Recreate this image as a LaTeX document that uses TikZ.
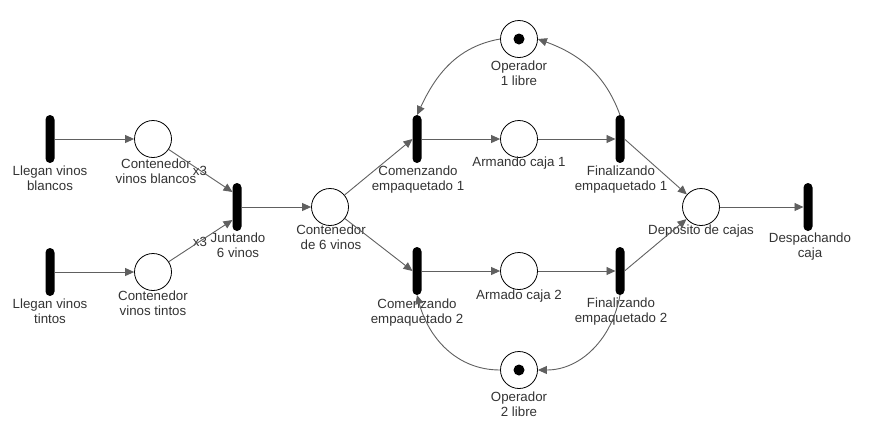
\documentclass[tikz,border=0pt]{standalone}
\usepackage{fontspec}
\setmainfont{Liberation Sans}
\usetikzlibrary{arrows.meta,calc}
\definecolor{edgec}{HTML}{606060}
\definecolor{txt}{HTML}{333333}
\tikzset{
 trans/.style={fill=black,draw=none,minimum width=9pt,minimum height=48pt,rounded corners=4.5pt,inner sep=0pt,outer sep=0pt},
 place/.style={circle,draw=black,line width=0.8pt,minimum size=37pt,inner sep=0pt,fill=white},
 token/.style={circle,fill=black,minimum size=11pt,inner sep=0pt},
 lbl/.style={anchor=north,align=center,text=txt,font=\fontsize{13.3}{15}\selectfont,inner sep=0pt},
 arr/.style={draw=edgec,line width=0.9pt,-{Triangle[length=9pt,width=8pt]}},
}
\begin{document}
\begin{tikzpicture}[x=1pt,y=-1pt]
\useasboundingbox (0,0) rectangle (869,437);
% transitions
\node[trans] (LB) at (50,139) {};
\node[trans] (LT) at (50,272) {};
\node[trans] (J) at (237,207) {};
\node[trans] (C1) at (417,139) {};
\node[trans] (C2) at (417,271) {};
\node[trans] (F1) at (620,139) {};
\node[trans] (F2) at (620,271) {};
\node[trans] (DC) at (808,207) {};
% places
\node[place] (CB) at (153,139) {};
\node[place] (CT) at (153,272) {};
\node[place] (C6) at (330,207) {};
\node[place] (A1) at (519,139) {};
\node[place] (A2) at (519,271) {};
\node[place] (O1) at (519,39) {};
\node[place] (O2) at (519,370) {};
\node[place] (D) at (701,207) {};
\node[token] (O1t) at (O1) {};
\node[token] (O2t) at (O2) {};
% labels
\node[lbl] (lLB) at (50,166) {Llegan vinos\\blancos};
\node[lbl] (lLT) at (50,299) {Llegan vinos\\tintos};
\node[lbl] (lCB) at (156,159) {Contenedor\\vinos blancos};
\node[lbl] (lCT) at (153,291) {Contenedor\\vinos tintos};
\node[lbl,anchor=center] (x3a) at (200,171) {x3};
\node[lbl,anchor=center] (x3b) at (200,242) {x3};
\node[lbl] (lJ) at (238,233) {Juntando\\6 vinos};
\node[lbl] (lC6) at (331,225) {Contenedor\\de 6 vinos};
\node[lbl] (lC1) at (418,166) {Comenzando\\empaquetado 1};
\node[lbl] (lC2) at (417,299) {Comenzando\\empaquetado 2};
\node[lbl] (lA1) at (519,157) {Armando caja 1};
\node[lbl] (lA2) at (519,290) {Armado caja 2};
\node[lbl] (lO1) at (519,61) {Operador\\1 libre};
\node[lbl] (lO2) at (519,392) {Operador\\2 libre};
\node[lbl] (lF1) at (621,166) {Finalizando\\empaquetado 1};
\node[lbl] (lF2) at (621,298) {Finalizando\\empaquetado 2};
\node[lbl] (lD) at (701,225) {Deposito de cajas};
\node[lbl] (lDC) at (810,233) {Despachando\\caja};
% arcs
\draw[arr] (LB.east) -- (CB.west);
\draw[arr] (LT.east) -- (CT.west);
\draw[arr] (CB) -- ([yshift=-9pt]J.north west);
\draw[arr] (CT) -- ([yshift=11pt]J.south west);
\draw[arr] (J.east) -- (C6.west);
\draw[arr] (C6) -- (C1.west);
\draw[arr] (C6) -- (C2.west);
\draw[arr] (C1.east) -- (A1.west);
\draw[arr] (A1.east) -- (F1.west);
\draw[arr] (C2.east) -- (A2.west);
\draw[arr] (A2.east) -- (F2.west);
\draw[arr] (F1.east) -- (D);
\draw[arr] (F2.east) -- (D);
\draw[arr] (D.east) -- (DC.west);
\draw[arr] (O1.west) to[out=190,in=65] (C1.north);
\draw[arr] (F1.north) to[out=110,in=-20] (O1.east);
\draw[arr] (O2.west) to[out=180,in=-75] (C2.south);
\draw[arr] (F2.south) to[out=-100,in=0] (O2.east);
\end{tikzpicture}
\end{document}
